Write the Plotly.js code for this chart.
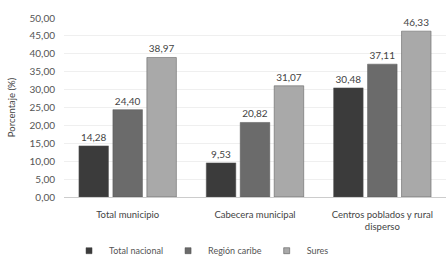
<!DOCTYPE html>
<html><head><meta charset="utf-8">
<script src="https://cdn.plot.ly/plotly-3.0.1.min.js"></script>
<style>html,body{margin:0;padding:0;background:#fff}#c{width:447px;height:256px}</style>
</head><body><div id="c"></div>
<script>
const categories = ["Total municipio", "Cabecera municipal", "Centros poblados y rural<br>disperso"];
const seriesNames = ["Total nacional", "Región caribe", "Sures"];
const totalNacional = [14.28, 9.53, 30.48];
const regionCaribe = [24.40, 20.82, 37.11];
const sures = [38.97, 31.07, 46.33];
const tickVals = [0, 5, 10, 15, 20, 25, 30, 35, 40, 45, 50];
const tickText = ["0,00","5,00","10,00","15,00","20,00","25,00","30,00","35,00","40,00","45,00","50,00"];
const colors = ["#3b3b3b", "#6b6b6b", "#a9a9a9"];
const fmt = v => v.toFixed(2).replace('.', ',');
const allSeries = [totalNacional, regionCaribe, sures];
const FONT = 'Lato, sans-serif';
const traces = allSeries.map((vals, i) => ({
  type: 'bar', name: seriesNames[i], x: categories, y: vals, showlegend: false,
  legendgroup: 'g' + i,
  marker: {color: colors[i], line: {color: '#555', width: 0.5}},
  text: vals.map(fmt), textposition: 'outside', cliponaxis: false,
  textfont: {size: 10, color: '#444', family: FONT}
}));
seriesNames.forEach((n, i) => traces.push({
  type: 'scatter', mode: 'markers', name: n, x: [null], y: [null], legendgroup: 'g' + i,
  marker: {symbol: 'square', size: 6, color: colors[i], line: {color: '#444', width: 0.5}}
}));
const layout = {
  width: 447, height: 256,
  margin: {l: 64, r: 1, t: 18, b: 59, autoexpand: false},
  paper_bgcolor: '#fff', plot_bgcolor: '#fff',
  font: {family: FONT, size: 9, color: '#444'},
  barmode: 'group', bargap: 0.2, bargroupgap: 0.13,
  showlegend: true,
  legend: {orientation: 'h', x: 0.36, xanchor: 'center', y: -0.30, yanchor: 'middle',
    font: {size: 9, color: '#555'}, itemwidth: 30, tracegroupgap: 0},
  xaxis: {tickfont: {size: 9.5, color: '#444'}, showline: false, ticks: '', automargin: false, ticklabelstandoff: 10},
  yaxis: {range: [0, 50], tickvals: tickVals, ticktext: tickText, tickfont: {size: 10, color: '#555'},
    showgrid: true, gridcolor: '#efefef', gridwidth: 1, zeroline: true, zerolinecolor: '#ccc',
    title: {text: 'Porcentaje (%)', font: {size: 9.5, color: '#444'}, standoff: 12}, automargin: false, ticklabelstandoff: 8}
};
Plotly.newPlot('c', traces, layout, {staticPlot: true, displayModeBar: false});
</script></body></html>
